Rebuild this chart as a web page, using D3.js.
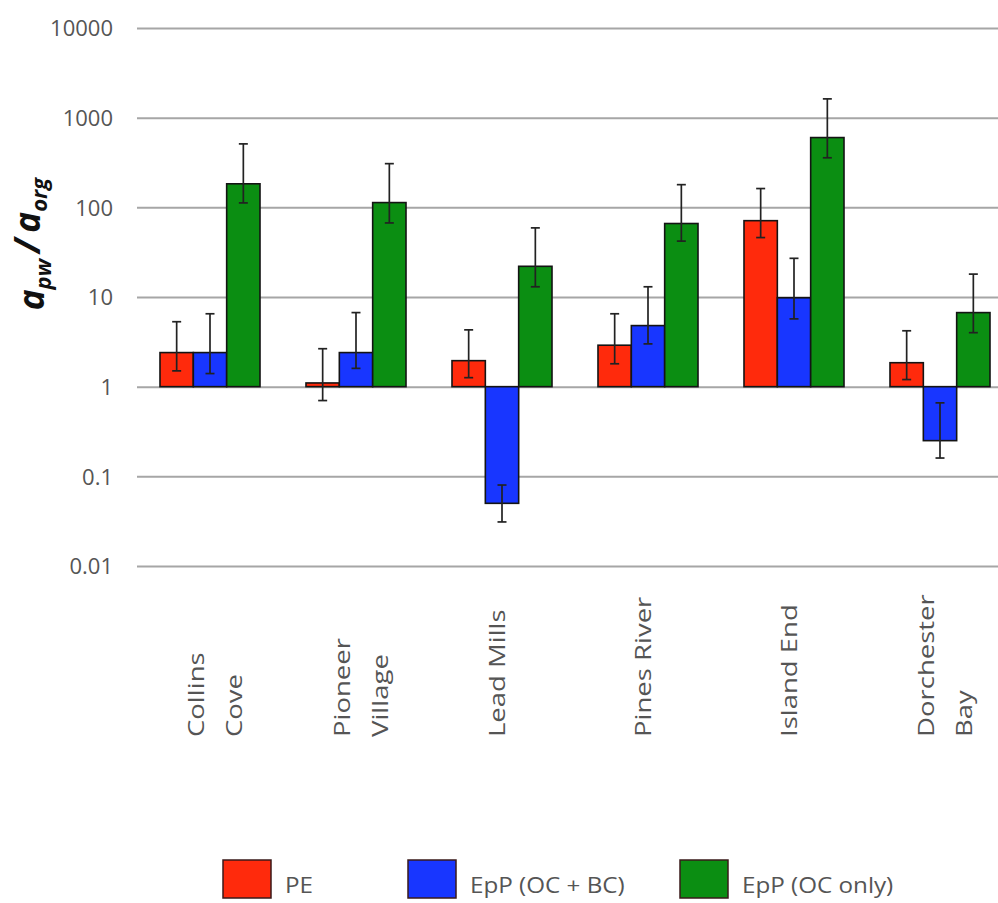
<!DOCTYPE html>
<html>
<head>
<meta charset="utf-8">
<script src="https://cdn.jsdelivr.net/npm/d3@7"></script>
<style>
  html, body { margin: 0; padding: 0; background: #fff; }
  svg { display: block; }
</style>
</head>
<body>
<svg id="chart" width="998" height="903"></svg>
<script>
// ---- data ----
const categories = ["Collins Cove", "Pioneer Village", "Lead Mills", "Pines River", "Island End", "Dorchester Bay"];
const categoryLines = [["Collins", "Cove"], ["Pioneer", "Village"], ["Lead Mills"], ["Pines River"], ["Island End"], ["Dorchester", "Bay"]];
const seriesNames = ["PE", "EpP (OC + BC)", "EpP (OC only)"];
const seriesColors = ["#ff2a0c", "#1836ff", "#0b8e12"];

const peValues  = [2.4, 1.1, 1.95, 2.9, 71, 1.85];
const peHigh    = [5.3, 2.65, 4.3, 6.5, 162, 4.2];
const peLow     = [1.5, 0.7, 1.26, 1.8, 46, 1.2];

const ocbcValues = [2.4, 2.4, 0.05, 4.8, 9.8, 0.25];
const ocbcHigh   = [6.5, 6.7, 0.08, 13, 27, 0.66];
const ocbcLow    = [1.4, 1.6, 0.031, 3.0, 5.7, 0.16];

const ocValues = [183, 113, 22, 66, 600, 6.7];
const ocHigh   = [510, 307, 59, 179, 1620, 18];
const ocLow    = [112, 67, 13, 42, 357, 4.0];

const yTicks = [0.01, 0.1, 1, 10, 100, 1000, 10000];
const yTickLabels = ["0.01", "0.1", "1", "10", "100", "1000", "10000"];

const series = [
  { name: seriesNames[0], color: seriesColors[0], v: peValues, hi: peHigh, lo: peLow },
  { name: seriesNames[1], color: seriesColors[1], v: ocbcValues, hi: ocbcHigh, lo: ocbcLow },
  { name: seriesNames[2], color: seriesColors[2], v: ocValues, hi: ocHigh, lo: ocLow }
];

// ---- layout ----
const svg = d3.select("#chart");
const plotLeft = 137, plotRight = 1013, plotTop = 28, plotBottom = 566;

const y = d3.scaleLog().domain([0.01, 10000]).range([plotBottom, plotTop]);
const x0 = d3.scaleBand().domain(categories).range([plotLeft, plotRight])
  .paddingInner(0.315).paddingOuter(0.1575);
const x1 = d3.scaleBand().domain(seriesNames).range([0, x0.bandwidth()]).padding(0);

// gridlines + tick labels
const yAxis = d3.axisLeft(y).tickValues(yTicks)
  .tickFormat((d, i) => yTickLabels[i])
  .tickSize(-(plotRight - plotLeft)).tickPadding(24);
const gy = svg.append("g").attr("transform", `translate(${plotLeft},0)`).call(yAxis);
gy.select(".domain").remove();
gy.selectAll(".tick line").attr("stroke", "#a6a6a6").attr("stroke-width", 2);
gy.selectAll(".tick text")
  .attr("fill", "#555")
  .style("font-family", "'Open Sans', sans-serif")
  .style("font-size", "22px")
  .attr("dy", "0.36em");

// bars
const groups = svg.append("g").selectAll("g.grp")
  .data(categories).join("g")
  .attr("class", "grp")
  .attr("transform", d => `translate(${x0(d)},0)`);

series.forEach(s => {
  groups.append("rect")
    .attr("x", (d, i) => x1(s.name))
    .attr("width", x1.bandwidth())
    .attr("y", (d, i) => Math.min(y(s.v[i]), y(1)))
    .attr("height", (d, i) => Math.abs(y(s.v[i]) - y(1)))
    .attr("fill", s.color)
    .attr("stroke", "#141414")
    .attr("stroke-width", 1.6);
});

// error bars
series.forEach(s => {
  const cx = x1(s.name) + x1.bandwidth() / 2;
  groups.append("line")
    .attr("x1", cx).attr("x2", cx)
    .attr("y1", (d, i) => y(s.hi[i])).attr("y2", (d, i) => y(s.lo[i]))
    .attr("stroke", "#222").attr("stroke-width", 1.7);
  groups.append("line")
    .attr("x1", cx - 4.5).attr("x2", cx + 4.5)
    .attr("y1", (d, i) => y(s.hi[i])).attr("y2", (d, i) => y(s.hi[i]))
    .attr("stroke", "#222").attr("stroke-width", 1.7);
  groups.append("line")
    .attr("x1", cx - 4.5).attr("x2", cx + 4.5)
    .attr("y1", (d, i) => y(s.lo[i])).attr("y2", (d, i) => y(s.lo[i]))
    .attr("stroke", "#222").attr("stroke-width", 1.7);
});

// category labels (rotated, stretched along text direction like the reference)
const labelBase = 737;
const lineGap = 38;
categories.forEach((c, i) => {
  const lines = categoryLines[i];
  const cxg = x0(c) + x0.bandwidth() / 2 + (lines.length > 1 ? 6 : -4);
  lines.forEach((ln, j) => {
    const off = (j - (lines.length - 1) / 2) * lineGap;
    const xx = cxg + off + 7;
    svg.append("text")
      .attr("transform", `translate(${xx},${labelBase}) rotate(-90) scale(1.25,1)`)
      .attr("text-anchor", "start")
      .attr("fill", "#555")
      .style("font-family", "'Open Sans', sans-serif")
      .style("font-size", "22px")
      .text(ln);
  });
});

// y-axis title
const title = svg.append("text")
  .attr("transform", "translate(44,244) rotate(-90)")
  .attr("text-anchor", "middle")
  .attr("fill", "#111")
  .style("font-family", "'Open Sans', sans-serif")
  .style("font-weight", "bold")
  .style("font-style", "italic")
  .style("font-size", "35px");
title.append("tspan").text("a");
title.append("tspan").attr("dy", "0.3em").style("font-size", "22px").text("pw");
title.append("tspan").attr("dy", "-0.3em").text("\u2009/\u2009");
title.append("tspan").text("a");
title.append("tspan").attr("dy", "0.3em").style("font-size", "22px").text("org");

// legend
const legendX = [223, 408, 680];
const legend = svg.append("g").selectAll("g")
  .data(series).join("g")
  .attr("transform", (d, i) => `translate(${legendX[i]},860)`);
legend.append("rect")
  .attr("width", 48).attr("height", 38)
  .attr("fill", d => d.color)
  .attr("stroke", "#3a1a1a").attr("stroke-width", 1.5);
legend.append("text")
  .attr("transform", "translate(62,33) scale(1.1,1)")
  .attr("fill", "#555")
  .style("font-family", "'Open Sans', sans-serif")
  .style("font-size", "22px")
  .text(d => d.name);
</script>
</body>
</html>
